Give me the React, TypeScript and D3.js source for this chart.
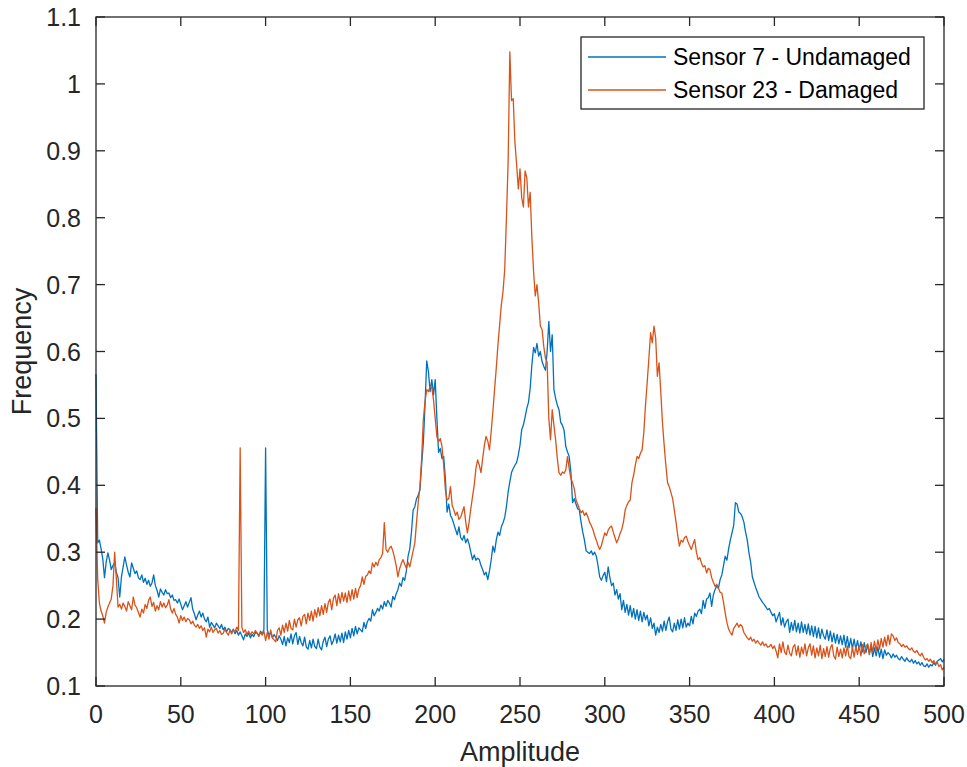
import React from "react";
import * as d3 from "d3";

const xStart = 0;
const xStep = 1;

const sensor7Undamaged: number[] = [
  0.566, 0.314, 0.318, 0.305, 0.290, 0.262, 0.285, 0.299, 0.288, 0.274,
  0.280, 0.284, 0.270, 0.262, 0.233, 0.263, 0.278, 0.293, 0.281, 0.270,
  0.263, 0.284, 0.276, 0.268, 0.272, 0.262, 0.259, 0.266, 0.255, 0.261,
  0.252, 0.258, 0.249, 0.254, 0.266, 0.250, 0.243, 0.233, 0.245, 0.240,
  0.236, 0.244, 0.238, 0.239, 0.232, 0.236, 0.228, 0.229, 0.224, 0.230,
  0.222, 0.214, 0.220, 0.226, 0.218, 0.225, 0.232, 0.215, 0.208, 0.199,
  0.206, 0.212, 0.203, 0.209, 0.200, 0.196, 0.203, 0.188, 0.195, 0.191,
  0.187, 0.194, 0.190, 0.186, 0.192, 0.184, 0.188, 0.181, 0.186, 0.184,
  0.180, 0.185, 0.178, 0.183, 0.176, 0.181, 0.175, 0.169, 0.178, 0.174,
  0.179, 0.172, 0.177, 0.174, 0.180, 0.179, 0.175, 0.182, 0.178, 0.184,
  0.456, 0.184, 0.176, 0.180, 0.172, 0.177, 0.173, 0.168, 0.175, 0.170,
  0.162, 0.174, 0.160, 0.172, 0.165, 0.178, 0.163, 0.175, 0.180, 0.162,
  0.174, 0.165, 0.160, 0.173, 0.158, 0.155, 0.168, 0.157, 0.170, 0.159,
  0.156, 0.170, 0.158, 0.154, 0.167, 0.173, 0.159, 0.170, 0.175, 0.162,
  0.168, 0.178, 0.164, 0.176, 0.166, 0.179, 0.165, 0.181, 0.170, 0.183,
  0.172, 0.186, 0.175, 0.189, 0.178, 0.187, 0.184, 0.181, 0.195, 0.186,
  0.196, 0.201, 0.197, 0.214, 0.205, 0.210, 0.216, 0.212, 0.221, 0.215,
  0.226, 0.219, 0.228, 0.224, 0.218, 0.234, 0.229, 0.238, 0.244, 0.254,
  0.249, 0.262, 0.258, 0.272, 0.294, 0.305, 0.330, 0.363, 0.368, 0.380,
  0.385, 0.393, 0.430, 0.464, 0.520, 0.586, 0.570, 0.540, 0.558, 0.535,
  0.558, 0.500, 0.449, 0.455, 0.440, 0.443, 0.410, 0.360, 0.372, 0.355,
  0.350, 0.342, 0.334, 0.326, 0.338, 0.322, 0.318, 0.325, 0.314, 0.320,
  0.312, 0.300, 0.289, 0.296, 0.288, 0.291, 0.289, 0.280, 0.274, 0.266,
  0.270, 0.259, 0.272, 0.288, 0.309, 0.300, 0.318, 0.330, 0.325, 0.338,
  0.344, 0.352, 0.368, 0.390, 0.405, 0.419, 0.425, 0.430, 0.434, 0.445,
  0.460, 0.483, 0.490, 0.502, 0.515, 0.524, 0.545, 0.580, 0.606, 0.598,
  0.612, 0.593, 0.600, 0.585, 0.578, 0.572, 0.600, 0.645, 0.600, 0.625,
  0.543, 0.530, 0.520, 0.513, 0.494, 0.490, 0.482, 0.458, 0.450, 0.443,
  0.420, 0.374, 0.380, 0.372, 0.365, 0.363, 0.345, 0.330, 0.318, 0.302,
  0.300, 0.298, 0.302, 0.296, 0.300, 0.294, 0.280, 0.263, 0.258, 0.265,
  0.270, 0.256, 0.278, 0.262, 0.250, 0.254, 0.236, 0.244, 0.230, 0.238,
  0.214, 0.228, 0.210, 0.222, 0.206, 0.220, 0.203, 0.216, 0.200, 0.214,
  0.198, 0.212, 0.196, 0.210, 0.199, 0.206, 0.190, 0.202, 0.186, 0.194,
  0.176, 0.188, 0.180, 0.192, 0.182, 0.197, 0.183, 0.196, 0.203, 0.185,
  0.181, 0.194, 0.183, 0.199, 0.185, 0.200, 0.187, 0.202, 0.188, 0.194,
  0.190, 0.204, 0.193, 0.209, 0.204, 0.212, 0.215, 0.208, 0.228, 0.216,
  0.230, 0.232, 0.239, 0.219, 0.236, 0.244, 0.250, 0.246, 0.259, 0.266,
  0.280, 0.294, 0.288, 0.305, 0.318, 0.329, 0.340, 0.374, 0.372, 0.360,
  0.358, 0.353, 0.345, 0.330, 0.318, 0.299, 0.285, 0.263, 0.255, 0.247,
  0.240, 0.233, 0.229, 0.225, 0.222, 0.218, 0.214, 0.216, 0.210, 0.205,
  0.208, 0.196, 0.203, 0.210, 0.191, 0.202, 0.188, 0.196, 0.200, 0.180,
  0.195, 0.183, 0.198, 0.181, 0.194, 0.179, 0.196, 0.180, 0.192, 0.178,
  0.193, 0.176, 0.190, 0.174, 0.189, 0.172, 0.187, 0.171, 0.185, 0.175,
  0.170, 0.184, 0.168, 0.182, 0.166, 0.179, 0.164, 0.177, 0.163, 0.175,
  0.162, 0.176, 0.158, 0.174, 0.157, 0.171, 0.156, 0.170, 0.155, 0.168,
  0.154, 0.166, 0.151, 0.165, 0.150, 0.162, 0.148, 0.160, 0.144, 0.157,
  0.145, 0.158, 0.143, 0.155, 0.141, 0.154, 0.146, 0.150, 0.147, 0.142,
  0.148, 0.143, 0.146, 0.141, 0.139, 0.144, 0.140, 0.137, 0.142, 0.138,
  0.136, 0.140, 0.134, 0.138, 0.133, 0.136, 0.131, 0.135, 0.130, 0.129,
  0.133, 0.128, 0.132, 0.130, 0.135, 0.131, 0.137, 0.139, 0.141, 0.136,
  0.140,
];

const sensor23Damaged: number[] = [
  0.366, 0.260, 0.224, 0.212, 0.205, 0.194, 0.210, 0.218, 0.224, 0.230,
  0.250, 0.300, 0.260, 0.218, 0.222, 0.215, 0.224, 0.219, 0.212, 0.226,
  0.220, 0.214, 0.233, 0.221, 0.217, 0.210, 0.203, 0.215, 0.209, 0.222,
  0.216, 0.228, 0.233, 0.219, 0.225, 0.212, 0.220, 0.214, 0.226, 0.218,
  0.224, 0.217, 0.221, 0.229, 0.215, 0.209, 0.216, 0.207, 0.203, 0.194,
  0.205, 0.198, 0.203, 0.196, 0.201, 0.199, 0.193, 0.197, 0.191, 0.188,
  0.192, 0.186, 0.190, 0.183, 0.187, 0.173, 0.185, 0.181, 0.188, 0.180,
  0.184, 0.186, 0.179, 0.183, 0.177, 0.179, 0.185, 0.180, 0.176, 0.183,
  0.178, 0.184, 0.181, 0.188, 0.183, 0.456, 0.188, 0.180, 0.184, 0.177,
  0.182, 0.176, 0.181, 0.178, 0.183, 0.179, 0.174, 0.180, 0.176, 0.182,
  0.168, 0.180, 0.170, 0.184, 0.172, 0.169, 0.166, 0.183, 0.187, 0.176,
  0.191, 0.180, 0.194, 0.182, 0.198, 0.186, 0.184, 0.200, 0.188, 0.199,
  0.202, 0.190, 0.204, 0.207, 0.193, 0.209, 0.198, 0.212, 0.197, 0.214,
  0.203, 0.217, 0.205, 0.220, 0.207, 0.223, 0.210, 0.225, 0.230, 0.214,
  0.231, 0.236, 0.220, 0.238, 0.224, 0.240, 0.227, 0.239, 0.225, 0.242,
  0.228, 0.244, 0.230, 0.246, 0.232, 0.245, 0.250, 0.263, 0.252, 0.264,
  0.266, 0.272, 0.268, 0.284, 0.278, 0.285, 0.280, 0.289, 0.292, 0.298,
  0.344, 0.304, 0.300, 0.306, 0.309, 0.302, 0.292, 0.280, 0.263, 0.275,
  0.283, 0.289, 0.282, 0.276, 0.285, 0.278, 0.290, 0.302, 0.314, 0.345,
  0.375, 0.398, 0.440, 0.498, 0.525, 0.543, 0.540, 0.548, 0.546, 0.528,
  0.500, 0.473, 0.465, 0.470, 0.458, 0.430, 0.393, 0.378, 0.380, 0.398,
  0.370, 0.363, 0.355, 0.360, 0.349, 0.352, 0.360, 0.368, 0.345, 0.329,
  0.345, 0.365, 0.383, 0.400, 0.425, 0.438, 0.430, 0.419, 0.440, 0.460,
  0.473, 0.466, 0.453, 0.480, 0.510, 0.543, 0.575, 0.610, 0.640, 0.670,
  0.690, 0.723, 0.800, 0.883, 1.048, 0.975, 0.978, 0.913, 0.880, 0.843,
  0.873, 0.830, 0.816, 0.870, 0.860, 0.816, 0.838, 0.770, 0.720, 0.683,
  0.700, 0.673, 0.638, 0.633, 0.608, 0.590, 0.584, 0.500, 0.468, 0.513,
  0.490, 0.468, 0.440, 0.419, 0.415, 0.420, 0.418, 0.423, 0.443, 0.425,
  0.410, 0.404, 0.395, 0.378, 0.372, 0.365, 0.359, 0.362, 0.355, 0.359,
  0.353, 0.345, 0.340, 0.334, 0.325, 0.318, 0.310, 0.304, 0.310, 0.320,
  0.329, 0.325, 0.333, 0.337, 0.339, 0.330, 0.322, 0.314, 0.320, 0.328,
  0.334, 0.345, 0.363, 0.370, 0.375, 0.378, 0.404, 0.415, 0.430, 0.443,
  0.440, 0.448, 0.453, 0.479, 0.520, 0.554, 0.590, 0.628, 0.613, 0.638,
  0.620, 0.563, 0.583, 0.540, 0.494, 0.460, 0.430, 0.404, 0.398, 0.389,
  0.380, 0.363, 0.345, 0.325, 0.309, 0.318, 0.315, 0.322, 0.324, 0.316,
  0.310, 0.304, 0.312, 0.319, 0.300, 0.289, 0.292, 0.284, 0.278, 0.280,
  0.269, 0.276, 0.274, 0.262, 0.255, 0.249, 0.252, 0.246, 0.240, 0.239,
  0.225, 0.209, 0.195, 0.185, 0.180, 0.176, 0.186, 0.190, 0.194, 0.188,
  0.192, 0.189, 0.180, 0.176, 0.172, 0.169, 0.173, 0.167, 0.170, 0.164,
  0.168, 0.164, 0.161, 0.166, 0.160, 0.163, 0.158, 0.159, 0.162, 0.156,
  0.160, 0.152, 0.142, 0.163, 0.150, 0.166, 0.151, 0.147, 0.161, 0.149,
  0.145, 0.158, 0.162, 0.146, 0.160, 0.143, 0.158, 0.148, 0.163, 0.145,
  0.157, 0.163, 0.146, 0.160, 0.142, 0.157, 0.145, 0.161, 0.141, 0.156,
  0.144, 0.159, 0.143, 0.157, 0.162, 0.145, 0.140, 0.158, 0.144, 0.155,
  0.142, 0.157, 0.145, 0.160, 0.144, 0.141, 0.158, 0.143, 0.159, 0.147,
  0.160, 0.145, 0.162, 0.148, 0.159, 0.163, 0.147, 0.165, 0.151, 0.167,
  0.153, 0.169, 0.155, 0.171, 0.158, 0.173, 0.160, 0.176, 0.162, 0.178,
  0.175, 0.168, 0.172, 0.165, 0.163, 0.159, 0.162, 0.158, 0.160, 0.156,
  0.154, 0.157, 0.152, 0.150, 0.153, 0.148, 0.145, 0.149, 0.143, 0.139,
  0.141, 0.137, 0.140, 0.135, 0.138, 0.133, 0.136, 0.129, 0.132, 0.124,
  0.128,
];

const seriesNames = ["Sensor 7 - Undamaged", "Sensor 23 - Damaged"];
const seriesColors = ["#0072BD", "#D95319"];
const xTicks = [0, 50, 100, 150, 200, 250, 300, 350, 400, 450, 500];
const yTicks = [0.1, 0.2, 0.3, 0.4, 0.5, 0.6, 0.7, 0.8, 0.9, 1, 1.1];
const xLabel = "Amplitude";
const yLabel = "Frequency";

const W = 967;
const H = 767;
const L = 96;
const R = 944;
const T = 17;
const B = 686;
const FONT = "'Liberation Sans', Arial, Helvetica, sans-serif";
const AX = "#262626";

export default function App() {
  const x = d3.scaleLinear().domain([0, 500]).range([L, R]);
  const y = d3.scaleLinear().domain([0.1, 1.1]).range([B, T]);
  const line = d3
    .line<number>()
    .x((_, i) => x(xStart + i * xStep))
    .y((d) => y(d));
  const series = [sensor7Undamaged, sensor23Damaged];
  const tickLen = 9;
  const fmt = d3.format("~g");

  return (
    <svg
      width={W}
      height={H}
      style={{ position: "absolute", left: 0, top: 0, background: "#fff" }}
      fontFamily={FONT}
    >
      <rect x={0} y={0} width={W} height={H} fill="#fff" />
      {series.map((s, i) => (
        <path
          key={i}
          d={line(s) || ""}
          fill="none"
          stroke={seriesColors[i]}
          strokeWidth={1.3}
          strokeLinejoin="round"
        />
      ))}
      <rect x={L} y={T} width={R - L} height={B - T} fill="none" stroke={AX} strokeWidth={1.3} />
      {xTicks.map((t) => (
        <g key={"x" + t}>
          <line x1={x(t)} x2={x(t)} y1={B} y2={B - tickLen} stroke={AX} strokeWidth={1.3} />
          <line x1={x(t)} x2={x(t)} y1={T} y2={T + tickLen} stroke={AX} strokeWidth={1.3} />
          <text x={x(t)} y={B + 37} textAnchor="middle" fontSize={25} fill={AX}>
            {fmt(t)}
          </text>
        </g>
      ))}
      {yTicks.map((t) => (
        <g key={"y" + t}>
          <line x1={L} x2={L + tickLen} y1={y(t)} y2={y(t)} stroke={AX} strokeWidth={1.3} />
          <line x1={R} x2={R - tickLen} y1={y(t)} y2={y(t)} stroke={AX} strokeWidth={1.3} />
          <text x={81} y={y(t) + 9} textAnchor="end" fontSize={25} fill={AX}>
            {fmt(t)}
          </text>
        </g>
      ))}
      <text x={(L + R) / 2} y={761} textAnchor="middle" fontSize={27} fill={AX}>
        {xLabel}
      </text>
      <text
        transform={`translate(31, ${(T + B) / 2}) rotate(-90)`}
        textAnchor="middle"
        fontSize={27}
        fill={AX}
      >
        {yLabel}
      </text>
      <rect x={581} y={37} width={343} height={72} fill="#fff" stroke={AX} strokeWidth={1.3} />
      {seriesNames.map((n, i) => (
        <g key={n}>
          <line x1={588} x2={666} y1={57 + i * 33} y2={57 + i * 33} stroke={seriesColors[i]} strokeWidth={1.3} />
          <text x={673} y={57 + i * 33 + 8} fontSize={23} fill="#000">
            {n}
          </text>
        </g>
      ))}
    </svg>
  );
}
